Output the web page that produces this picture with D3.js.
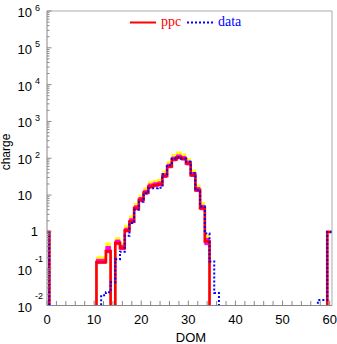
<!DOCTYPE html>
<html><head><meta charset="utf-8">
<script src="https://cdn.jsdelivr.net/npm/d3@7"></script>
<style>body{margin:0;background:#fff}svg{display:block}</style>
</head><body>
<svg id="c" width="337" height="344"></svg>
<script>
// DOM bins 0..60 (bin centred on integer)
const bins = d3.range(0, 61);
// ppc (red) values per bin; 0 = empty
const ppc = [1,0,0,0,0,0,0,0,0,0,0,
  0.15,0.15,0.30,0,0.50,0.36,1.1,1.9,4.4,7.4,
  11.6,17,18.5,19.6,33,60,93,106,97,72,
  35,13.7,4.4,0.55,0,0,0,0,0,0,
  0,0,0,0,0,0,0,0,0,0,
  0,0,0,0,0,0,0,0,0,1];
// data (blue dotted)
const dataVals = [1,0,0,0,0,0,0,0,0,0,0,
  0,0.019,0.023,0.043,0.18,0.29,0.78,1.74,4.0,6.6,
  11.2,15.3,15.3,15.9,37,65,99,105,99,80,
  39,13.7,4.9,0.9,0.157,0.022,0,0,0,0,
  0,0,0,0,0,0,0,0,0,0,
  0,0,0,0,0,0,0,0.014,0.014,1];
// ppc bands, bins 11..34 (null = no band)
const bandBins = d3.range(11, 35);
const yellowHi = [0.21,0.21,0.5,null,0.7,0.48,1.5,2.7,5.9,9.9,15.6,23,25,27,45,81,126,148,131,97,48,18.7,6.3,0.8];
const magentaHi = [0.18,0.18,0.4,null,0.6,0.43,1.26,2.26,5.1,8.6,13.4,20,21.5,22.8,38,69,108,123,112,84,41,16,5.25,0.66];
const magentaLo = [0.14,0.14,0.27,null,0.45,0.33,1.0,1.75,4.0,6.8,10.6,15.5,17,18,30,55,85,97,89,66,32,12.5,4.0,0.45];
const xTicks = [0,10,20,30,40,50,60];
const yTicks = [1e6,1e5,1e4,1e3,1e2,10,1,0.1,0.01];
const yExp = ["6","5","4","3","2","","","-1","-2"];

const L = 47, R = 332, T = 11, B = 305.5;
const x = d3.scaleLinear().domain([0, 60.5]).range([L, R]);
const y = d3.scaleLog().domain([0.01, 1e6]).range([B, T]);
const svg = d3.select("#c");
const axisCol = "#888";

svg.append("defs").append("clipPath").attr("id","clip")
  .append("rect").attr("x", L).attr("y", T).attr("width", R - L).attr("height", B - T);

const below = y(1e-3);
function stepPts(vals, idx) {
  const pts = [];
  idx.forEach((b, k) => {
    const v = vals[k];
    pts.push({x: b - 0.5, v}); pts.push({x: b + 0.5, v});
  });
  return pts;
}
const g = svg.append("g").attr("clip-path", "url(#clip)");

// bands
function band(lo, hi, color) {
  const pts = [];
  bandBins.forEach((b, k) => {
    const d = hi[k] == null ? null : {lo: lo[k], hi: hi[k]};
    pts.push({x: b - 0.5, d}); pts.push({x: b + 0.5, d});
  });
  const area = d3.area().defined(p => p.d !== null)
    .x(p => x(p.x)).y0(p => y(p.d.lo)).y1(p => y(p.d.hi));
  g.append("path").attr("d", area(pts)).attr("fill", color).attr("stroke", color).attr("stroke-width", 1);
}
band(ppc.slice(11, 35), yellowHi, "#ffff00");
band(magentaLo, magentaHi, "#ff00ff");

const line = d3.line().x(p => x(p.x)).y(p => p.v > 0 ? y(p.v) : below);
g.append("path").attr("d", line(stepPts(ppc, bins)))
  .attr("fill", "none").attr("stroke", "#ff0000").attr("stroke-width", 2.7);
g.append("path").attr("d", line(stepPts(dataVals, bins)))
  .attr("fill", "none").attr("stroke", "#0000ff").attr("stroke-width", 2)
  .attr("stroke-dasharray", "2,2");

// frame
svg.append("line").attr("x1", L).attr("x2", R).attr("y1", T).attr("y2", T).attr("stroke", "#aaa");
svg.append("line").attr("x1", R).attr("x2", R).attr("y1", T).attr("y2", B).attr("stroke", "#aaa");

// x axis
const xMinor = d3.range(0, 61, 2);
const xa = svg.append("g");
xa.append("line").attr("x1", L).attr("x2", R).attr("y1", B).attr("y2", B).attr("stroke", axisCol);
xa.selectAll("line.t").data(xMinor).join("line").attr("class","t")
  .attr("x1", d => x(d)).attr("x2", d => x(d))
  .attr("y1", B).attr("y2", d => d % 10 === 0 ? B - 5 : B - 4.5).attr("stroke", axisCol);
xa.selectAll("text").data(xTicks).join("text")
  .attr("x", d => x(d)).attr("y", 323.5).attr("text-anchor", "middle")
  .attr("font-family", "Liberation Sans, Arial, sans-serif").attr("font-size", 13).text(d => d);

// y axis
const ya = svg.append("g");
ya.append("line").attr("x1", L).attr("x2", L).attr("y1", T).attr("y2", B).attr("stroke", axisCol);
const yMinor = [];
for (let e = -2; e < 6; e++) for (let m = 2; m <= 9; m++) yMinor.push(m * Math.pow(10, e));
ya.selectAll("line.m").data(yMinor).join("line").attr("class","m")
  .attr("x1", L).attr("x2", L + 2.5).attr("y1", d => y(d)).attr("y2", d => y(d)).attr("stroke", axisCol);
ya.selectAll("line.M").data(yTicks).join("line").attr("class","M")
  .attr("x1", L).attr("x2", L + 4.5).attr("y1", d => y(d)).attr("y2", d => y(d)).attr("stroke", axisCol);
yTicks.forEach((v, i) => {
  const ty = y(v);
  const e = yExp[i];
  const ff = "Liberation Sans, Arial, sans-serif";
  if (v === 1) {
    ya.append("text").attr("x", 38).attr("y", ty + 4.5).attr("text-anchor", "end")
      .attr("font-family", ff).attr("font-size", 13).text("1");
  } else if (v === 10) {
    ya.append("text").attr("x", 32).attr("y", ty + 4.5).attr("text-anchor", "end")
      .attr("font-family", ff).attr("font-size", 13).text("10");
  } else {
    ya.append("text").attr("x", 32).attr("y", ty + 6).attr("text-anchor", "end")
      .attr("font-family", ff).attr("font-size", 13).text("10");
    ya.append("text").attr("x", 35).attr("y", e.startsWith("-") ? ty - 6.5 : ty - 0.5)
      .attr("font-family", ff).attr("font-size", 9).text(e);
  }
});

// axis titles
svg.append("text").attr("transform", "translate(10,152) rotate(-90)").attr("text-anchor", "middle")
  .attr("font-family", "Liberation Sans, Arial, sans-serif").attr("font-size", 12).text("charge");
svg.append("text").attr("x", 191).attr("y", 342).attr("text-anchor", "middle")
  .attr("font-family", "Liberation Sans, Arial, sans-serif").attr("font-size", 13).text("DOM");

// legend
const lg = svg.append("g");
lg.append("line").attr("x1", 130).attr("x2", 156).attr("y1", 22.5).attr("y2", 22.5)
  .attr("stroke", "#ff0000").attr("stroke-width", 2);
lg.append("text").attr("x", 161).attr("y", 26).attr("fill", "#ff0000")
  .attr("font-family", "Liberation Serif, Times New Roman, serif").attr("font-size", 14).text("ppc");
lg.append("line").attr("x1", 187).attr("x2", 213).attr("y1", 22.5).attr("y2", 22.5)
  .attr("stroke", "#0000ff").attr("stroke-width", 2).attr("stroke-dasharray", "2,2");
lg.append("text").attr("x", 218).attr("y", 26).attr("fill", "#0000ff")
  .attr("font-family", "Liberation Serif, Times New Roman, serif").attr("font-size", 14).text("data");
</script>
</body></html>
